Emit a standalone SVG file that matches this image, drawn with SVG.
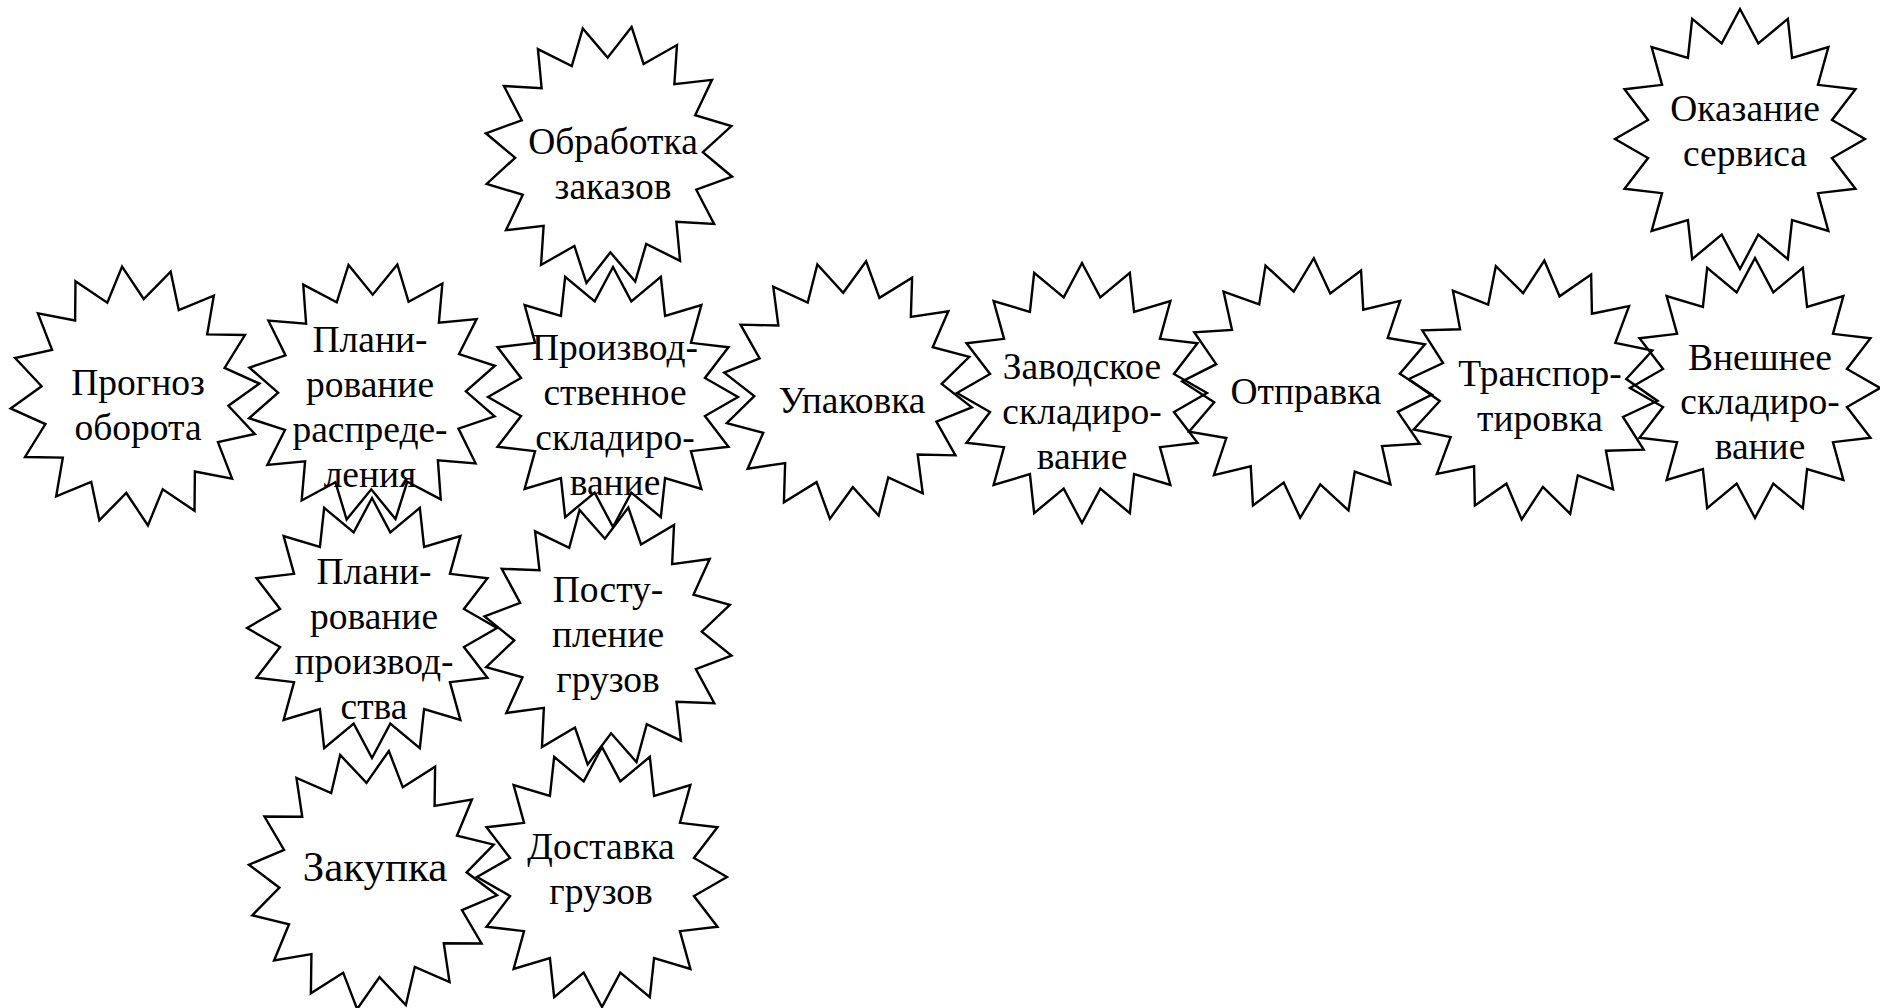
<svg xmlns="http://www.w3.org/2000/svg" xmlns:xlink="http://www.w3.org/1999/xlink" width="1880" height="1008" viewBox="0 0 1880 1008">
<style>
.s{fill:none;stroke:#000;stroke-width:2.4;stroke-linejoin:miter;stroke-miterlimit:10;vector-effect:non-scaling-stroke}
text{font-family:"Liberation Serif","Times New Roman",serif;font-size:37.5px;fill:#000;text-anchor:middle}
.big{font-size:43px}
</style>
<defs>
<polygon id="star" class="s" points="0,-100 14.632,-73.559 38.268,-92.388 41.668,-62.36 70.711,-70.711 62.36,-41.668 92.388,-38.268 73.559,-14.632 100,0 73.559,14.632 92.388,38.268 62.36,41.668 70.711,70.711 41.668,62.36 38.268,92.388 14.632,73.559 0,100 -14.632,73.559 -38.268,92.388 -41.668,62.36 -70.711,70.711 -62.36,41.668 -92.388,38.268 -73.559,14.632 -100,0 -73.559,-14.632 -92.388,-38.268 -62.36,-41.668 -70.711,-70.711 -41.668,-62.36 -38.268,-92.388 -14.632,-73.559"/>
</defs>
<rect width="1880" height="1008" fill="#fff"/>
<g id="n1"><use href="#star" transform="translate(135,396) rotate(-5.7) scale(1.25,1.3)"/><text x="138" y="395">Прогноз</text><text x="138" y="440">оборота</text></g>
<g id="n2"><use href="#star" transform="translate(372,392) rotate(11.25) scale(1.25,1.3)"/><text x="370" y="352">Плани-</text><text x="370" y="397">рование</text><text x="370" y="442">распреде-</text><text x="370" y="487">ления</text></g>
<g id="n3"><use href="#star" transform="translate(609,155) rotate(10) scale(1.25,1.3)"/><text x="613" y="154">Обработка</text><text x="613" y="199">заказов</text></g>
<g id="n4"><use href="#star" transform="translate(613,397) scale(1.25,1.3)"/><text x="615" y="360">Производ-</text><text x="615" y="405">ственное</text><text x="615" y="450">складиро-</text><text x="615" y="495">вание</text></g>
<g id="n5"><use href="#star" transform="translate(372,628) scale(1.25,1.3)"/><text x="374" y="584">Плани-</text><text x="374" y="629">рование</text><text x="374" y="674">производ-</text><text x="374" y="719">ства</text></g>
<g id="n6"><use href="#star" transform="translate(608,636) rotate(9) scale(1.25,1.3)"/><text x="608" y="602">Посту-</text><text x="608" y="647">пление</text><text x="608" y="692">грузов</text></g>
<g id="n7"><use href="#star" transform="translate(373,880) rotate(7) scale(1.25,1.3)"/><text class="big" x="375" y="881">Закупка</text></g>
<g id="n8"><use href="#star" transform="translate(602,877) scale(1.25,1.3)"/><text x="601" y="859">Доставка</text><text x="601" y="904">грузов</text></g>
<g id="n9"><use href="#star" transform="translate(848,390) rotate(8) scale(1.25,1.3)"/><text x="852" y="413">Упаковка</text></g>
<g id="n10"><use href="#star" transform="translate(1082,393) scale(1.25,1.3)"/><text x="1082" y="379">Заводское</text><text x="1082" y="424">складиро-</text><text x="1082" y="469">вание</text></g>
<g id="n11"><use href="#star" transform="translate(1307,388) rotate(3) scale(1.25,1.3)"/><text x="1306" y="404">Отправка</text></g>
<g id="n12"><use href="#star" transform="translate(1533,390) rotate(5) scale(1.25,1.3)"/><text x="1540" y="386">Транспор-</text><text x="1540" y="431">тировка</text></g>
<g id="n13"><use href="#star" transform="translate(1740,139) scale(1.25,1.3)"/><text x="1745" y="121">Оказание</text><text x="1745" y="166">сервиса</text></g>
<g id="n14"><use href="#star" transform="translate(1755,388) scale(1.25,1.3)"/><text x="1760" y="370">Внешнее</text><text x="1760" y="414">складиро-</text><text x="1760" y="459">вание</text></g>
</svg>
